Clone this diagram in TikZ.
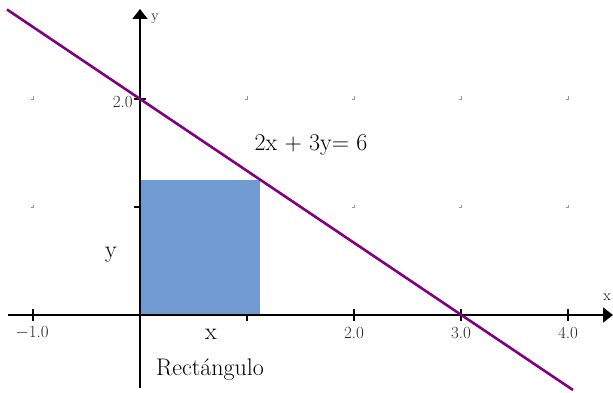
\documentclass[tikz,border=0pt]{standalone}
\usetikzlibrary{arrows.meta}
\definecolor{rectblue}{RGB}{112,155,209}
\definecolor{linepurple}{RGB}{128,0,128}
\definecolor{gridgray}{RGB}{150,150,150}
\tikzset{
  axis/.style={line width=1.8pt, black},
  tickmark/.style={line width=1.5pt, black},
  gridmark/.style={gridgray, line width=0.7pt},
  ticklabel/.style={font=\fontsize{17}{20}\selectfont, text=black!85, inner sep=0pt},
  axislabel/.style={font=\fontsize{15}{18}\selectfont, inner sep=0pt},
  maintext/.style={font=\fontsize{24}{28}\selectfont, inner sep=0pt},
}
\begin{document}
\begin{tikzpicture}[x=1pt,y=-1pt]
\useasboundingbox (0,0) rectangle (613,393);
% grid marks
\foreach \gx/\gy in {33/99,33/207,247/99,354/99,461/99,568/99,354/207,461/207,568/207}{
  \draw[gridmark] (\gx-2.5,\gy) -- (\gx,\gy) -- (\gx,\gy-2.5);
}
% ticks
\foreach \tx in {33,247,354,461,568}{
  \draw[tickmark] (\tx,309) -- (\tx,321);
}
\foreach \ty in {99,207}{
  \draw[tickmark] (134,\ty) -- (146,\ty);
}
% rectangle
\fill[rectblue] (141,180) rectangle (260,315);
% axes
\coordinate (xs) at (8,315);
\coordinate (xe) at (613,315);
\coordinate (ys) at (140,388);
\coordinate (ye) at (140,9);
\draw[axis, -{Triangle[length=10pt,width=15pt]}] (xs) -- (xe);
\draw[axis, -{Triangle[length=10pt,width=15pt]}] (ys) -- (ye);
% line 2x+3y=6
\coordinate (la) at (7,9.5);
\coordinate (lb) at (573,390);
\draw[linepurple, line width=2.6pt] (la) -- (lb);
% tick labels
\node[ticklabel] (tm1) at (32,333) {$-$1.0};
\node[ticklabel] (t2) at (354,333) {2.0};
\node[ticklabel] (t3) at (461,333) {3.0};
\node[ticklabel] (t4) at (568,333) {4.0};
\node[ticklabel, anchor=east] (ty2) at (133,102) {2.0};
% axis labels
\node[axislabel] (xl) at (607,297) {x};
\node[axislabel] (yl) at (155,19) {y};
% main texts
\node[maintext] (eq) at (311,145) {2x + 3y= 6};
\node[maintext] (ylab) at (111,255) {y};
\node[maintext] (xlab) at (211,334) {x};
\node[maintext] (rect) at (210,370) {Rectángulo};
\end{tikzpicture}
\end{document}
